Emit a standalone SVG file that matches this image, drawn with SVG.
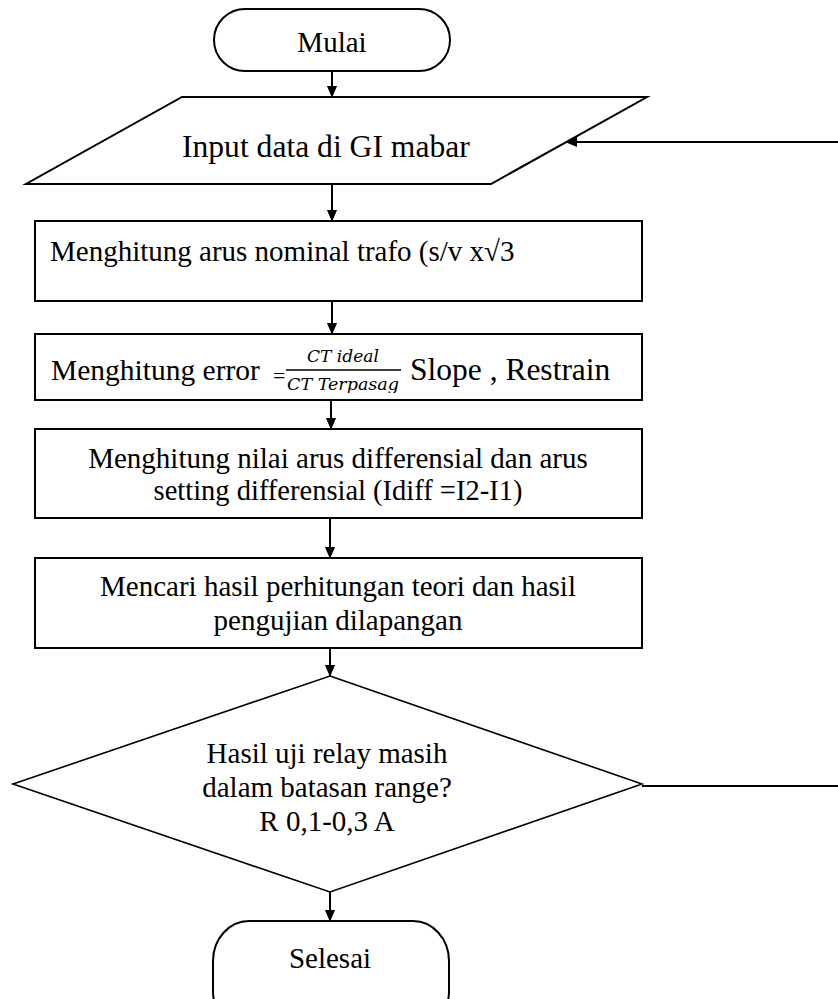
<svg xmlns="http://www.w3.org/2000/svg" width="838" height="999" viewBox="0 0 838 999">
<defs>
<marker id="ah" markerWidth="12" markerHeight="14" refX="13" refY="6" orient="auto" markerUnits="userSpaceOnUse" viewBox="0 0 14 12">
<path d="M0,0 L14,6 L0,12 Z" fill="#000"/>
</marker>
<clipPath id="fracClip"><rect x="280" y="340" width="130" height="53"/></clipPath>
<style>
.s{fill:#fff;stroke:#000;stroke-width:2}
.t{font-family:"Liberation Serif","Times New Roman",serif;fill:#000}
.m{font-family:"DejaVu Serif","Liberation Serif",serif;font-style:italic;fill:#000}
.c{fill:none;stroke:#000;stroke-width:2}
</style>
</defs>
<rect width="838" height="999" fill="#fff"/>
<g id="connectors">
<line class="c" x1="332" y1="71" x2="332" y2="97" marker-end="url(#ah)"/>
<line class="c" x1="332" y1="184" x2="332" y2="221" marker-end="url(#ah)"/>
<line class="c" x1="332" y1="301" x2="332" y2="334" marker-end="url(#ah)"/>
<line class="c" x1="331" y1="400" x2="331" y2="429" marker-end="url(#ah)"/>
<line class="c" x1="330" y1="518" x2="330" y2="558" marker-end="url(#ah)"/>
<line class="c" x1="330" y1="648" x2="330" y2="676" marker-end="url(#ah)"/>
<line class="c" x1="330" y1="892" x2="330" y2="921" marker-end="url(#ah)"/>
<line class="c" x1="642" y1="786" x2="838" y2="786"/>
<line class="c" x1="838" y1="142" x2="566" y2="142" marker-end="url(#ah)"/>
</g>
<g id="start">
<rect class="s" x="214" y="9" width="236" height="62" rx="31" ry="31"/>
<text class="t" x="332" y="52" font-size="29" text-anchor="middle">Mulai</text>
</g>
<g id="input">
<polygon class="s" points="182,97 647,97 491,184 26,184"/>
<text class="t" x="182" y="157" font-size="31.6">Input data di GI mabar</text>
</g>
<g id="nominal">
<rect class="s" x="35" y="221" width="607" height="80"/>
<text class="t" x="50" y="261" font-size="29">Menghitung arus nominal trafo (s/v x√3</text>
</g>
<g id="error">
<rect class="s" x="35" y="334" width="607" height="66"/>
<text class="t" x="51" y="380" font-size="29.5">Menghitung error</text>
<text class="t" x="273" y="383" font-size="22">=</text>
<g clip-path="url(#fracClip)">
<text class="m" x="343" y="362" font-size="17" text-anchor="middle" textLength="72" lengthAdjust="spacingAndGlyphs">CT ideal</text>
<text class="m" x="343" y="390" font-size="17" text-anchor="middle" textLength="112" lengthAdjust="spacingAndGlyphs">CT Terpasag</text>
</g>
<line x1="286" y1="370" x2="401" y2="370" stroke="#000" stroke-width="1.5"/>
<text class="t" x="410" y="380" font-size="31.5">Slope , Restrain</text>
</g>
<g id="differential">
<rect class="s" x="35" y="429" width="607" height="89"/>
<text class="t" x="338" y="468" font-size="29" text-anchor="middle">Menghitung nilai arus differensial dan arus</text>
<text class="t" x="338" y="500" font-size="28.5" text-anchor="middle">setting differensial (Idiff =I2-I1)</text>
</g>
<g id="compare">
<rect class="s" x="35" y="558" width="607" height="90"/>
<text class="t" x="338" y="596" font-size="29" text-anchor="middle">Mencari hasil perhitungan teori dan hasil</text>
<text class="t" x="338" y="630" font-size="29" text-anchor="middle">pengujian dilapangan</text>
</g>
<g id="decision">
<polygon class="s" points="330,676 642,784 330,892 13,784" style="stroke-width:1.6"/>
<text class="t" x="327" y="763" font-size="29" text-anchor="middle">Hasil uji relay masih</text>
<text class="t" x="327" y="797" font-size="29" text-anchor="middle">dalam batasan range?</text>
<text class="t" x="327" y="831" font-size="29" text-anchor="middle">R 0,1-0,3 A</text>
</g>
<g id="end">
<rect class="s" x="213" y="921" width="236" height="110" rx="36" ry="40"/>
<text class="t" x="330" y="968" font-size="29" text-anchor="middle">Selesai</text>
</g>
</svg>
